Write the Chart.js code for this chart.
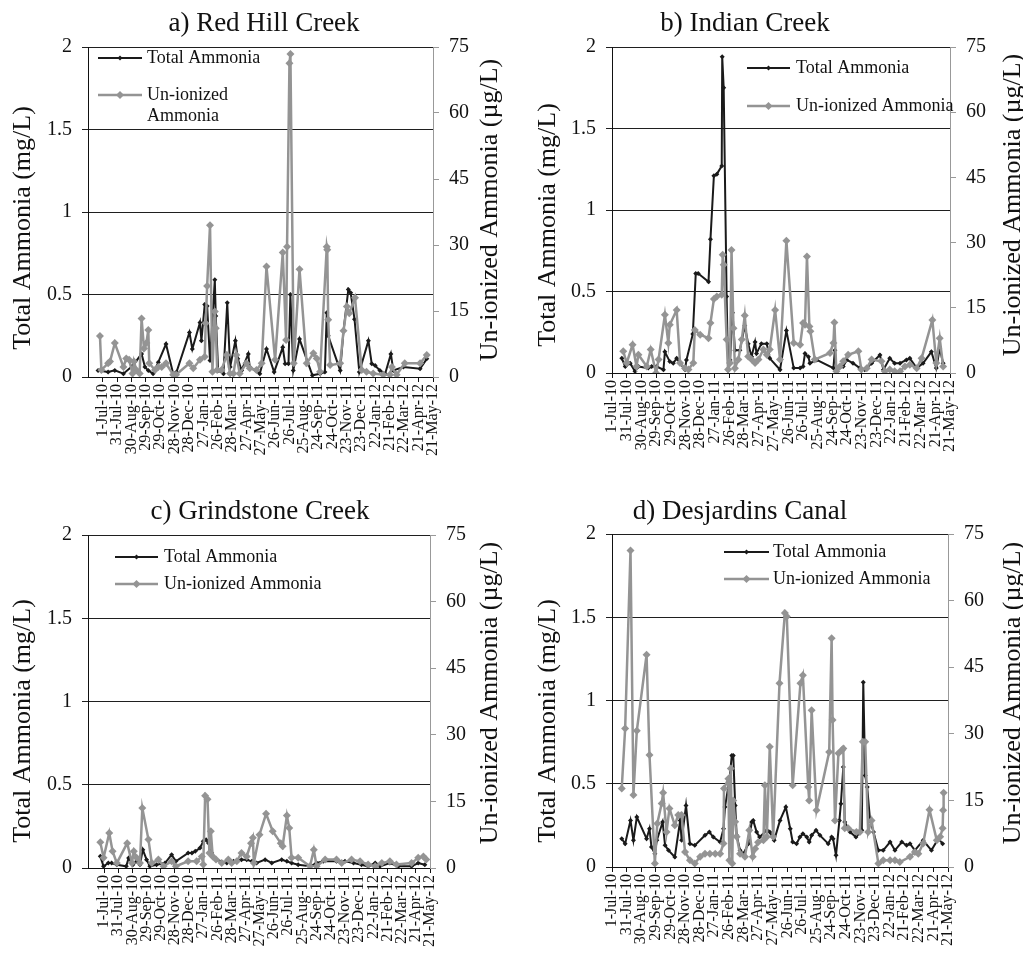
<!DOCTYPE html>
<html><head><meta charset="utf-8">
<script src="https://cdn.jsdelivr.net/npm/chart.js@4"></script>
<style>
html,body{margin:0;padding:0;background:#fff;width:1023px;height:958px;overflow:hidden;}
canvas{position:absolute;}
</style></head><body>
<canvas id="ca" width="512" height="479" style="left:0px;top:0px"></canvas>
<canvas id="cb" width="512" height="479" style="left:511px;top:0px"></canvas>
<canvas id="cc" width="512" height="479" style="left:0px;top:479px"></canvas>
<canvas id="cd" width="512" height="479" style="left:511px;top:479px"></canvas>
<script>
// ---------- DATA (days since 1-Jul-10) ----------
const tickLabels = ['1-Jul-10','31-Jul-10','30-Aug-10','29-Sep-10','29-Oct-10','28-Nov-10','28-Dec-10','27-Jan-11','26-Feb-11','28-Mar-11','27-Apr-11','27-May-11','26-Jun-11','26-Jul-11','25-Aug-11','24-Sep-11','24-Oct-11','23-Nov-11','23-Dec-11','22-Jan-12','21-Feb-12','22-Mar-12','21-Apr-12','21-May-12'];
const seriesNames = ['Total Ammonia', 'Un-ionized Ammonia'];
const panelTitles = ['a) Red Hill Creek', 'b) Indian Creek', 'c) Grindstone Creek', 'd) Desjardins Canal'];
const leftTitle = 'Total Ammonia (mg/L)';
const rightTitle = 'Un-ionized Ammonia (µg/L)';
const leftTicks = [0, 0.5, 1, 1.5, 2];
const rightTicks = [0, 15, 30, 45, 60, 75];

// a) Red Hill Creek
const redDaysT = [-10,11,25,43,63,81,88,95,105,116,132,147,154,181,187,203,206,213,218,224,234,236,241,252,260,266,277,282,290,304,307,328,342,358,376,381,388,392,398,411,438,454,464,468,471,496,503,513,518,526,536,555,562,569,579,590,602,607,628,663,677];
const redTotal = [0.04,0.03,0.04,0.02,0.07,0.14,0.06,0.04,0.02,0.09,0.2,0.02,0.03,0.27,0.17,0.33,0.22,0.44,0.43,0.1,0.59,0.37,0.04,0.02,0.45,0.06,0.22,0.11,0.04,0.14,0.06,0.02,0.17,0.03,0.18,0.08,0.08,0.5,0.04,0.23,0.01,0.02,0.03,0.39,0.25,0.04,0.28,0.53,0.51,0.35,0.03,0.22,0.08,0.07,0.04,0.02,0.14,0.04,0.06,0.05,0.11];
const redDaysU = [-6,-3,11,15,25,43,49,55,62,65,70,77,81,86,91,95,97,109,116,123,132,147,153,181,189,203,213,215,218,224,229,234,236,239,248,259,266,273,279,286,300,307,321,332,342,360,376,383,385,390,392,399,411,426,440,447,454,468,469,471,475,496,503,510,515,527,541,551,565,586,600,604,614,631,663,677];
const redUn = [9.3,1.6,3.1,3.5,7.7,2.3,4.2,3.9,0.8,3.5,1.6,0.8,13.3,6.5,7.7,10.7,3.1,1.6,2.3,2.3,3.1,0.5,0.5,3.1,2.0,3.9,4.6,12.2,20.7,34.5,1.2,14.9,11.1,1.6,1.6,5.0,0.8,0.8,5.0,0.8,3.1,2.0,1.6,3.1,25.1,3.9,28.3,8.4,29.6,71.3,73.4,3.1,24.5,3.1,5.4,4.2,1.2,29.6,28.9,13.0,2.7,3.1,10.5,16.0,14.5,18.0,1.6,1.2,0.8,0.5,0.5,2.3,0.5,3.1,3.1,5.0];

// b) Indian Creek
const indDaysT = [20,27,37,47,54,74,81,91,105,108,118,125,132,139,149,152,165,171,176,197,201,208,214,224,225,228,234,237,241,246,251,261,271,278,285,292,295,305,316,322,343,356,371,384,390,394,401,404,418,452,455,458,472,479,492,506,516,530,547,554,567,577,588,601,608,622,635,652,662,669,676];
const indTotal = [0.09,0.04,0.06,0.01,0.04,0.03,0.04,0.04,0.02,0.13,0.07,0.06,0.09,0.06,0.02,0.08,0.24,0.61,0.61,0.56,0.82,1.21,1.22,1.27,1.94,1.75,0.47,0.02,0.08,0.37,0.14,0.14,0.29,0.18,0.1,0.19,0.12,0.18,0.18,0.09,0.02,0.26,0.03,0.03,0.04,0.12,0.1,0.06,0.08,0.03,0.14,0.02,0.04,0.08,0.06,0.03,0.02,0.06,0.11,0.02,0.09,0.06,0.06,0.08,0.09,0.03,0.06,0.13,0.03,0.15,0.06];
const indDaysU = [23,30,42,50,54,71,79,90,95,108,115,118,132,139,149,156,166,169,180,197,201,208,214,224,226,228,234,237,241,244,248,251,258,265,271,278,285,292,299,309,316,322,333,343,356,371,384,390,394,398,403,405,414,445,452,454,458,465,472,482,503,509,520,530,550,557,567,577,588,598,608,622,632,654,662,669,676];
const indUn = [5.0,2.3,6.5,1.5,4.2,1.5,5.4,0,3.1,13.4,6.9,11.1,14.5,2.3,1.1,0.8,2.3,9.9,8.8,8.0,11.5,17.0,17.6,18.0,27.2,24.9,7.7,0.8,2.3,28.3,10.3,1.1,3.1,7.7,13.2,3.8,3.1,2.3,3.1,5.4,4.2,5.4,14.5,3.1,30.4,6.9,6.5,11.5,11.1,26.8,10.7,9.6,3.1,4.6,6.9,11.6,0.4,1.5,2.7,4.2,5.0,0.8,1.1,3.1,2.7,0.4,0.8,0.4,0.4,1.5,1.9,1.1,3.4,12.2,2.3,8.0,1.5];

// c) Grindstone Creek
const grdDaysT = [-8,-1,9,16,27,47,52,61,69,76,82,90,97,111,129,143,152,178,186,193,203,210,216,221,228,238,260,274,291,302,313,323,341,355,376,387,397,411,436,450,464,492,510,528,545,559,574,584,605,623,651,665,679];
const grdTotal = [0.07,0.01,0.03,0.03,0.02,0.01,0.06,0.02,0.04,0.02,0.11,0.05,0.01,0.02,0.03,0.08,0.04,0.09,0.09,0.1,0.12,0.16,0.17,0.15,0.09,0.05,0.03,0.04,0.05,0.05,0.04,0.03,0.05,0.03,0.05,0.04,0.03,0.02,0.01,0.03,0.04,0.04,0.04,0.03,0.02,0.01,0.03,0.01,0.03,0.01,0.01,0.03,0.02];
const grdDaysU = [-8,-1,11,18,27,49,59,63,69,76,81,94,101,115,126,143,152,178,196,207,210,214,219,223,226,230,237,249,263,270,281,291,302,311,315,317,329,343,357,374,378,387,392,397,411,436,444,450,468,492,503,524,542,559,574,588,605,619,651,665,676,682];
const grdUn = [5.8,2.3,7.9,3.8,1.1,5.6,1.1,3.8,2.3,1.1,13.5,6.4,1.1,1.9,0.4,1.5,0.4,1.5,1.5,2.6,0.8,16.3,15.5,3.4,8.3,2.6,1.9,1.1,1.9,1.1,1.5,3.4,2.6,5.6,6.8,1.1,7.5,12.2,8.3,5.6,4.9,11.8,9.0,2.3,2.3,0.4,4.1,0.4,1.9,1.9,1.1,1.9,1.5,0.8,0.4,1.1,1.5,0.8,1.1,2.3,2.6,1.9];

// d) Desjardins Canal
const desDaysT = [20,27,38,44,51,71,77,81,88,92,104,109,116,129,140,143,152,160,170,191,200,208,222,229,232,241,246,249,253,256,263,270,280,287,290,297,303,318,324,333,345,357,366,371,379,386,392,400,405,410,419,427,444,451,454,460,467,470,475,478,489,501,513,516,520,524,530,537,547,557,571,581,595,605,612,622,639,656,670,679];
const desTotal = [0.17,0.14,0.28,0.16,0.30,0.17,0.23,0.12,0.08,0.16,0.27,0.13,0.10,0.06,0.28,0.16,0.37,0.14,0.13,0.19,0.21,0.18,0.15,0.23,0.36,0.52,0.67,0.67,0.37,0.19,0.10,0.08,0.14,0.27,0.28,0.21,0.18,0.22,0.21,0.16,0.28,0.36,0.23,0.15,0.14,0.18,0.20,0.18,0.15,0.19,0.22,0.19,0.14,0.18,0.17,0.07,0.28,0.38,0.60,0.27,0.21,0.18,0.22,1.11,0.55,0.48,0.28,0.21,0.10,0.10,0.15,0.10,0.15,0.13,0.14,0.10,0.16,0.10,0.17,0.14];
const desDaysU = [20,27,38,44,51,71,77,88,93,102,105,112,118,129,136,143,150,160,170,181,191,201,212,222,229,230,239,241,244,247,249,253,256,263,273,282,289,294,300,311,314,318,324,331,344,355,359,371,387,392,403,405,410,420,446,451,453,458,465,472,475,478,485,502,509,515,520,526,533,547,557,571,581,591,612,622,629,639,652,667,674,679,680,681];
const desUn = [17.7,31.2,71.3,16.2,30.7,47.8,25.2,0.8,9.8,14.3,16.7,7.9,13.2,9.4,11.7,11.7,3.4,1.5,0.8,2.3,3.0,3.0,3.0,3.0,5.3,17.7,19.9,1.5,22.2,0.8,15.0,10.2,6.8,3.0,2.3,8.3,2.3,4.1,5.6,6.0,18.4,6.8,27.1,6.8,41.4,57.2,56.4,18.4,41.4,43.2,18.0,15.0,35.3,12.8,25.9,51.5,33.1,10.5,25.6,26.3,26.7,8.7,8.7,7.9,7.9,28.2,28.2,7.9,10.5,0.8,1.5,1.5,1.5,1.1,2.3,3.4,3.0,5.3,12.9,6.0,6.8,8.7,12.8,16.7];

// ---------- LAYOUT (canvas-local pixels) ----------
const FONT = '"Liberation Serif", "Times New Roman", serif';
const W = 512, H = 479;
const layouts = {
  ca: {xmin:-31, left:88, right:433, top:47, bottom:377, tx:264, ty:31, lx:23, ly:228, rx:490, ry:210,
       legend:[{x1:98,x2:142,y:58,tx:147,lines:[seriesNames[0]]},{x1:98,x2:142,y:95,tx:147,lines:['Un-ionized','Ammonia']}]},
  cb: {xmin:0, left:101, right:439, top:47, bottom:373, tx:234, ty:31, lx:37, ly:225, rx:502, ry:205,
       legend:[{x1:236,x2:279,y:68,tx:285,lines:[seriesNames[0]]},{x1:236,x2:279,y:106,tx:285,lines:[seriesNames[1]]}]},
  cc: {xmin:-34, left:88, right:430, top:56, bottom:389, tx:260, ty:40, lx:23, ly:242, rx:490, ry:214,
       legend:[{x1:115,x2:158,y:78,tx:164,lines:[seriesNames[0]]},{x1:115,x2:158,y:105,tx:164,lines:[seriesNames[1]]}]},
  cd: {xmin:0, left:101, right:437, top:55, bottom:388, tx:229, ty:40, lx:37, ly:242, rx:502, ry:214,
       legend:[{x1:213,x2:258,y:73,tx:262,lines:[seriesNames[0]]},{x1:213,x2:258,y:100,tx:262,lines:[seriesNames[1]]}]}
};

const BLACK = '#1a1a1a', GRAY = '#949494';

const decor = {
  id: 'decor',
  afterDraw(chart, args, o) {
    const ctx = chart.ctx;
    ctx.save();
    ctx.fillStyle = '#111';
    ctx.textAlign = 'center';
    ctx.textBaseline = 'alphabetic';
    ctx.font = '27px ' + FONT;
    ctx.fillText(o.title, o.L.tx, o.L.ty);
    ctx.font = '26px ' + FONT;
    ctx.textBaseline = 'middle';
    ctx.save(); ctx.translate(o.L.lx, o.L.ly); ctx.rotate(-Math.PI/2); ctx.fillText(leftTitle, 0, 0); ctx.restore();
    ctx.save(); ctx.translate(o.L.rx, o.L.ry); ctx.rotate(-Math.PI/2); ctx.fillText(rightTitle, 0, 0); ctx.restore();
    ctx.font = '18px ' + FONT;
    ctx.textAlign = 'left';
    o.L.legend.forEach((it, k) => {
      const ds = chart.data.datasets[k];
      ctx.strokeStyle = ds.borderColor; ctx.lineWidth = ds.borderWidth;
      ctx.beginPath(); ctx.moveTo(it.x1, it.y); ctx.lineTo(it.x2, it.y); ctx.stroke();
      const cx = (it.x1 + it.x2) / 2, r = ds.pointRadius;
      ctx.fillStyle = ds.borderColor;
      ctx.beginPath(); ctx.moveTo(cx, it.y - r); ctx.lineTo(cx + r, it.y); ctx.lineTo(cx, it.y + r); ctx.lineTo(cx - r, it.y); ctx.closePath(); ctx.fill();
      ctx.fillStyle = '#111';
      it.lines.forEach((t, i) => ctx.fillText(t, it.tx, it.y + i * 21));
    });
    ctx.restore();
  }
};

function pts(xs, ys) { return xs.map((x, i) => ({x: x, y: ys[i]})); }

function makeChart(id, title, dT, vT, dU, vU) {
  const L = layouts[id];
  return new Chart(document.getElementById(id), {
    type: 'line',
    data: {datasets: [
      {label: seriesNames[0], data: pts(dT, vT), yAxisID: 'y', borderColor: BLACK, backgroundColor: BLACK,
       borderWidth: 2, pointStyle: 'rectRot', pointRadius: 2.5, pointBorderWidth: 0, tension: 0, order: 1},
      {label: seriesNames[1], data: pts(dU, vU), yAxisID: 'y2', borderColor: GRAY, backgroundColor: GRAY,
       borderWidth: 2.5, pointStyle: 'rectRot', pointRadius: 4, pointBorderWidth: 0, tension: 0, order: 0}
    ]},
    options: {
      responsive: false, animation: false, devicePixelRatio: 1,
      layout: {padding: {top: L.top, left: 0, right: 0, bottom: 0}},
      plugins: {legend: {display: false}, tooltip: {enabled: false}, decor: {title: title, L: L}},
      scales: {
        x: {type: 'linear', min: L.xmin, max: 690,
            afterFit: s => { s.height = H - L.bottom; },
            afterBuildTicks: s => { s.ticks = tickLabels.map((_, i) => ({value: i * 30})); },
            ticks: {autoSkip: false, maxRotation: 90, minRotation: 90, padding: 2, color: '#111',
                    font: {family: FONT, size: 16}, callback: (v, i) => tickLabels[i]},
            grid: {drawOnChartArea: false, drawTicks: true, tickLength: 5, color: '#111', lineWidth: 1},
            border: {color: '#111', width: 1}},
        y: {position: 'left', min: 0, max: 2,
            afterFit: s => { s.width = L.left; },
            afterBuildTicks: s => { s.ticks = leftTicks.map(v => ({value: v})); },
            ticks: {padding: 10, color: '#111', font: {family: FONT, size: 20}, callback: v => String(v)},
            grid: {color: '#1f1f1f', lineWidth: 1, tickLength: 6},
            border: {color: '#111', width: 1}},
        y2: {position: 'right', min: 0, max: 75,
            afterFit: s => { s.width = W - L.right; },
            afterBuildTicks: s => { s.ticks = rightTicks.map(v => ({value: v})); },
            ticks: {padding: 10, color: '#111', font: {family: FONT, size: 20}, callback: v => String(v)},
            grid: {drawOnChartArea: false, color: '#999', lineWidth: 1, tickLength: 6},
            border: {color: '#999', width: 1}}
      }
    },
    plugins: [decor]
  });
}

makeChart('ca', panelTitles[0], redDaysT, redTotal, redDaysU, redUn);
makeChart('cb', panelTitles[1], indDaysT, indTotal, indDaysU, indUn);
makeChart('cc', panelTitles[2], grdDaysT, grdTotal, grdDaysU, grdUn);
makeChart('cd', panelTitles[3], desDaysT, desTotal, desDaysU, desUn);
</script>
</body></html>
